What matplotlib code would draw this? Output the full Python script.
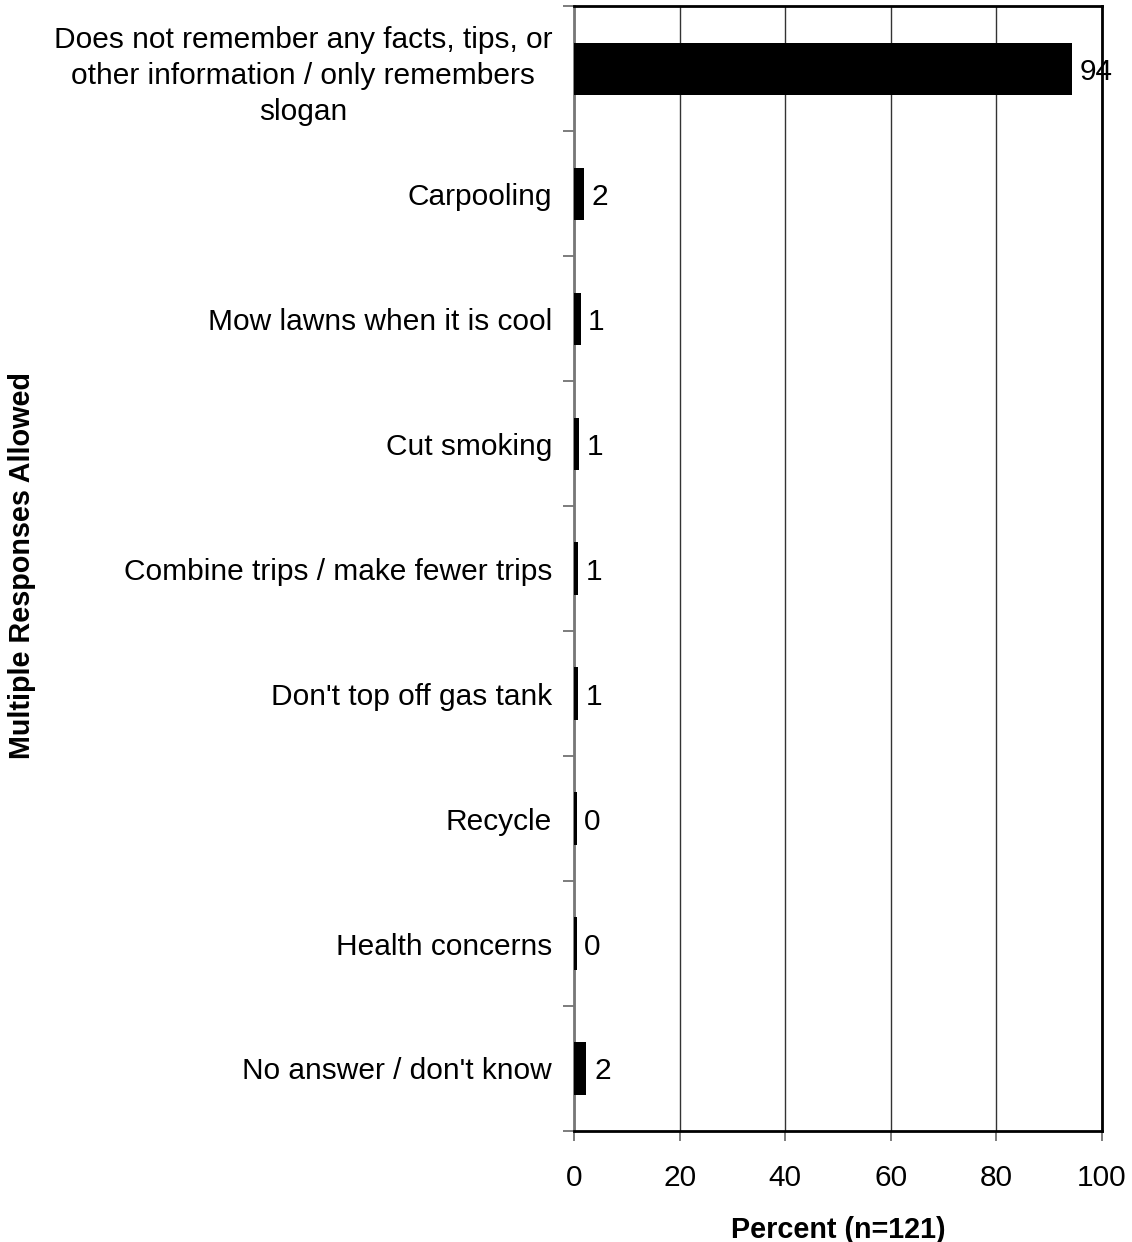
import matplotlib
matplotlib.use('Agg')

import numpy as np
import matplotlib.pyplot as plt

plt.rcParams['font.family'] = ['Liberation Sans', 'DejaVu Sans']

categories = [
    "Does not remember any facts, tips, or\nother information / only remembers\nslogan",
    "Carpooling",
    "Mow lawns when it is cool",
    "Cut smoking",
    "Combine trips / make fewer trips",
    "Don't top off gas tank",
    "Recycle",
    "Health concerns",
    "No answer / don't know",
]
percents = [94.4, 1.9, 1.2, 0.9, 0.8, 0.8, 0.45, 0.45, 2.3]
xticks = [0, 20, 40, 60, 80, 100]


def main():
    fig = plt.figure(figsize=(11.32, 12.42), dpi=100)
    ax = fig.add_axes([0.5073, 0.0894, 0.4660, 0.9054])

    pos = np.arange(len(categories))
    ax.barh(pos, percents, height=0.42, color='black', zorder=3)

    for y, v in zip(pos, percents):
        ax.annotate(str(int(round(v))), (v, y), xytext=(5.5, 0),
                    textcoords='offset points', ha='left',
                    va='center_baseline', fontsize=21.5, zorder=4)

    ax.set_xlim(0, 100)
    ax.set_ylim(len(categories) - 0.5, -0.5)
    ax.set_xticks(xticks)
    ax.set_xticklabels([str(t) for t in xticks], fontsize=21.5)
    ax.tick_params(axis='x', direction='out', length=7, width=1.2,
                   color='#666666', pad=17)

    # labels at centres, tick marks at category boundaries
    ax.set_yticks(pos)
    ax.set_yticklabels(categories, fontsize=21.5, linespacing=1.38)
    for lbl in ax.get_yticklabels():
        lbl.set_multialignment('center')
    ax.tick_params(axis='y', which='major', length=0, pad=16)
    ax.set_yticks(np.arange(-0.5, len(categories)), minor=True)
    ax.tick_params(axis='y', which='minor', direction='out', length=8,
                   width=1.2, color='#666666')

    ax.grid(True, axis='x', color='#333333', linewidth=1.0, zorder=0)

    for side in ['top', 'right', 'bottom']:
        ax.spines[side].set_linewidth(2)
        ax.spines[side].set_color('black')
    ax.spines['left'].set_linewidth(2)
    ax.spines['left'].set_color('#777777')

    ax.set_xlabel('Percent (n=121)', fontsize=20.7, fontweight='bold',
                  labelpad=17)
    fig.text(0.0195, 0.545, 'Multiple Responses Allowed', rotation=90,
             fontsize=20.7, fontweight='bold', ha='center', va='center')

    fig.savefig('out.png', dpi=100)
    plt.close(fig)


if __name__ == "__main__":
    main()
